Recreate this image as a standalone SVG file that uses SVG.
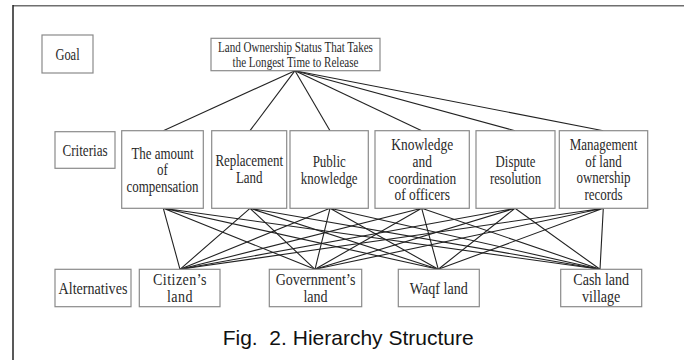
<svg xmlns="http://www.w3.org/2000/svg" width="684" height="360" viewBox="0 0 684 360">
<style>
.box{fill:#fff;stroke:#8a8a8a;stroke-width:1.2}
.t{font-family:"Liberation Serif","Times New Roman",serif;font-size:16px;fill:#2a2a2a;text-anchor:middle}
.tt{font-family:"Liberation Serif","Times New Roman",serif;font-size:14px;fill:#2a2a2a;text-anchor:middle}
.cap{font-family:"Liberation Sans",Arial,sans-serif;font-size:21px;fill:#111}
.ln{stroke:#222;stroke-width:1.1;fill:none}
</style>
<rect width="684" height="360" fill="#fff"/>
<g id="frame">
<line x1="13" y1="5.7" x2="684" y2="5.7" stroke="#6f6f6f" stroke-width="1.6"/>
<line x1="13" y1="5" x2="13" y2="360" stroke="#222" stroke-width="1.5"/>
</g>
<g id="connectors" class="ln">
<line x1="295" y1="70.7" x2="163.3" y2="130.7"/>
<line x1="295" y1="70.7" x2="250" y2="130.7"/>
<line x1="295" y1="70.7" x2="330" y2="130.7"/>
<line x1="295" y1="70.7" x2="421.7" y2="130.7"/>
<line x1="295" y1="70.7" x2="515" y2="130.7"/>
<line x1="295" y1="70.7" x2="603.3" y2="130.7"/>
<path d="M163.3 208.3L180 269.3M163.3 208.3L315 269.3M163.3 208.3L438.3 269.3M163.3 208.3L600 269.3"/>
<path d="M250 208.3L180 269.3M250 208.3L315 269.3M250 208.3L438.3 269.3M250 208.3L600 269.3"/>
<path d="M330 208.3L180 269.3M330 208.3L315 269.3M330 208.3L438.3 269.3M330 208.3L600 269.3"/>
<path d="M421.7 208.3L180 269.3M421.7 208.3L315 269.3M421.7 208.3L438.3 269.3M421.7 208.3L600 269.3"/>
<path d="M515 208.3L180 269.3M515 208.3L315 269.3M515 208.3L438.3 269.3M515 208.3L600 269.3"/>
<path d="M603.3 208.3L180 269.3M603.3 208.3L315 269.3M603.3 208.3L438.3 269.3M603.3 208.3L600 269.3"/>
</g>
<g id="goal-label">
<rect class="box" x="42" y="35" width="51" height="38"/>
<text class="t" transform="translate(67.5 59.5) scale(0.78 1)">Goal</text>
</g>
<g id="goal">
<rect class="box" x="211" y="38.3" width="169" height="32.4"/>
<text class="tt" transform="translate(295.5 0) scale(0.79 1)"><tspan x="0" y="52">Land Ownership Status That Takes</tspan><tspan x="0" y="67.5">the Longest Time to Release</tspan></text>
</g>
<g id="criterias-label">
<rect class="box" x="55" y="131.7" width="60" height="36.6"/>
<text class="t" transform="translate(85 155.5) scale(0.82 1)">Criterias</text>
</g>
<g id="c1">
<rect class="box" x="121.7" y="130.7" width="81.6" height="77.6"/>
<text class="t" transform="translate(162.5 0) scale(0.81 1)"><tspan x="0" y="158.8">The amount</tspan><tspan x="0" y="175.5">of</tspan><tspan x="0" y="192.2">compensation</tspan></text>
</g>
<g id="c2">
<rect class="box" x="211.7" y="130.7" width="75" height="77.6"/>
<text class="t" transform="translate(249.2 0) scale(0.81 1)"><tspan x="0" y="166.2">Replacement</tspan><tspan x="0" y="182.9">Land</tspan></text>
</g>
<g id="c3">
<rect class="box" x="290" y="130.7" width="78.3" height="77.6"/>
<text class="t" transform="translate(329.2 0) scale(0.81 1)"><tspan x="0" y="167.3">Public</tspan><tspan x="0" y="183.9">knowledge</tspan></text>
</g>
<g id="c4">
<rect class="box" x="375" y="130.7" width="94.3" height="77.6"/>
<text class="t" transform="translate(422.2 0) scale(0.84 1)"><tspan x="0" y="150.5">Knowledge</tspan><tspan x="0" y="167.2">and</tspan><tspan x="0" y="183.8">coordination</tspan><tspan x="0" y="200.5">of officers</tspan></text>
</g>
<g id="c5">
<rect class="box" x="476" y="130.7" width="79" height="77.6"/>
<text class="t" transform="translate(515.5 0) scale(0.8 1)"><tspan x="0" y="167.5">Dispute</tspan><tspan x="0" y="184.2">resolution</tspan></text>
</g>
<g id="c6">
<rect class="box" x="559.3" y="130.7" width="88.4" height="77.6"/>
<text class="t" transform="translate(603.5 0) scale(0.81 1)"><tspan x="0" y="150">Management</tspan><tspan x="0" y="166.7">of land</tspan><tspan x="0" y="183.4">ownership</tspan><tspan x="0" y="200.1">records</tspan></text>
</g>
<g id="alternatives-label">
<rect class="box" x="55" y="269.3" width="76" height="37.4"/>
<text class="t" transform="translate(93 294) scale(0.88 1)">Alternatives</text>
</g>
<g id="a1">
<rect class="box" x="139.3" y="269.3" width="80.7" height="37.4"/>
<text class="t" transform="translate(180 0) scale(0.88 1)" letter-spacing="0.5"><tspan x="0" y="285.3">Citizen’s</tspan><tspan x="0" y="302">land</tspan></text>
</g>
<g id="a2">
<rect class="box" x="269.3" y="269.3" width="92.4" height="37.4"/>
<text class="t" transform="translate(315.5 0) scale(0.88 1)"><tspan x="0" y="285.3">Government’s</tspan><tspan x="0" y="302">land</tspan></text>
</g>
<g id="a3">
<rect class="box" x="398.3" y="269.3" width="81" height="37.4"/>
<text class="t" transform="translate(438.8 294) scale(0.88 1)">Waqf land</text>
</g>
<g id="a4">
<rect class="box" x="560.7" y="269.3" width="81" height="37.4"/>
<text class="t" transform="translate(601.2 0) scale(0.88 1)"><tspan x="0" y="285.3">Cash land</tspan><tspan x="0" y="302">village</tspan></text>
</g>
<text class="cap" x="222.7" y="344.5" xml:space="preserve">Fig.  2. Hierarchy Structure</text>
</svg>
